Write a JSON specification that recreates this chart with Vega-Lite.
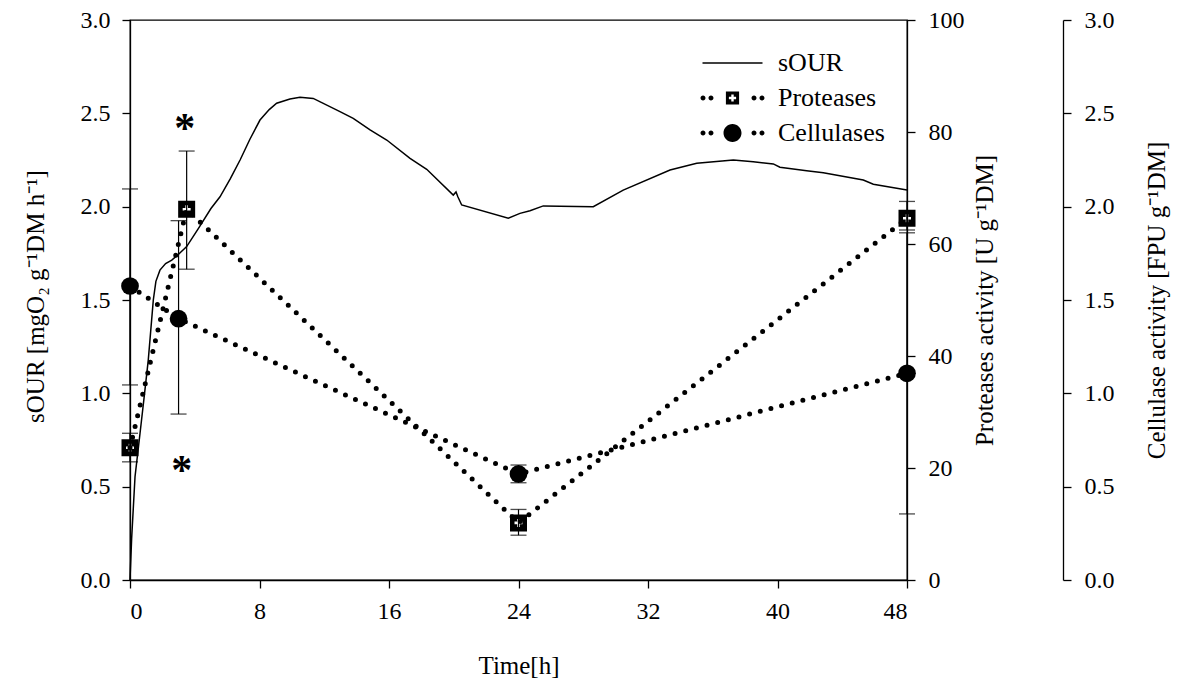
{
  "$schema": "https://vega.github.io/schema/vega-lite/v6.json",
  "width": 777,
  "height": 560,
  "autosize": {"type": "none"},
  "padding": {"left": 130, "top": 20, "right": 285, "bottom": 107},
  "background": "white",
  "config": {
    "view": {"stroke": "black", "strokeWidth": 1.3},
    "axis": {
      "grid": false,
      "domainColor": "black", "domainWidth": 1.3,
      "tickColor": "black", "tickWidth": 1.3, "tickSize": 8,
      "labelFont": "Liberation Serif", "labelFontSize": 24, "labelColor": "black",
      "titleFont": "Liberation Serif", "titleFontSize": 25, "titleFontWeight": "normal", "titleColor": "black",
      "labelPadding": 12
    },
    "legend": {
      "labelFont": "Liberation Serif", "labelFontSize": 26, "labelColor": "black"
    }
  },
  "datasets": {
    "sour": [
      {"time": 0, "sOUR": 0},
      {"time": 0.1, "sOUR": 0.22},
      {"time": 0.31, "sOUR": 0.553},
      {"time": 0.62, "sOUR": 0.786},
      {"time": 0.9, "sOUR": 1.0},
      {"time": 1.13, "sOUR": 1.179},
      {"time": 1.44, "sOUR": 1.5},
      {"time": 1.6, "sOUR": 1.6},
      {"time": 1.85, "sOUR": 1.66},
      {"time": 2.2, "sOUR": 1.695},
      {"time": 2.58, "sOUR": 1.714},
      {"time": 3.0, "sOUR": 1.745},
      {"time": 3.5, "sOUR": 1.786},
      {"time": 4.2, "sOUR": 1.88},
      {"time": 5.0, "sOUR": 1.99},
      {"time": 5.56, "sOUR": 2.053},
      {"time": 6.2, "sOUR": 2.15},
      {"time": 6.8, "sOUR": 2.25},
      {"time": 7.4, "sOUR": 2.36},
      {"time": 8.03, "sOUR": 2.464},
      {"time": 8.6, "sOUR": 2.52},
      {"time": 9.06, "sOUR": 2.554},
      {"time": 9.88, "sOUR": 2.577},
      {"time": 10.5, "sOUR": 2.586},
      {"time": 11.32, "sOUR": 2.58},
      {"time": 12.97, "sOUR": 2.509},
      {"time": 13.79, "sOUR": 2.473},
      {"time": 14.83, "sOUR": 2.411},
      {"time": 15.86, "sOUR": 2.357},
      {"time": 17.3, "sOUR": 2.259},
      {"time": 18.33, "sOUR": 2.2},
      {"time": 19.97, "sOUR": 2.062},
      {"time": 20.14, "sOUR": 2.079},
      {"time": 20.26, "sOUR": 2.052},
      {"time": 20.49, "sOUR": 2.009},
      {"time": 23.37, "sOUR": 1.938},
      {"time": 24.09, "sOUR": 1.964},
      {"time": 24.71, "sOUR": 1.978},
      {"time": 25.53, "sOUR": 2.004},
      {"time": 28.62, "sOUR": 2.0},
      {"time": 30.47, "sOUR": 2.089},
      {"time": 33.36, "sOUR": 2.196},
      {"time": 35.01, "sOUR": 2.232},
      {"time": 37.27, "sOUR": 2.25},
      {"time": 38.5, "sOUR": 2.241},
      {"time": 39.74, "sOUR": 2.229},
      {"time": 40.15, "sOUR": 2.211},
      {"time": 41.8, "sOUR": 2.193},
      {"time": 42.83, "sOUR": 2.182},
      {"time": 45.3, "sOUR": 2.143},
      {"time": 45.92, "sOUR": 2.12},
      {"time": 48, "sOUR": 2.089}
    ],
    "enzymes": [
      {"enzyme": "Proteases", "time": 0, "value": 23.6, "lo": 21.1, "hi": 26.2},
      {"enzyme": "Proteases", "time": 3.5, "value": 66.2, "lo": 55.5, "hi": 76.6},
      {"enzyme": "Proteases", "time": 24, "value": 10.2, "lo": 8.0, "hi": 12.6},
      {"enzyme": "Proteases", "time": 48, "value": 64.6, "lo": 62.5, "hi": 67.6},
      {"enzyme": "Cellulases", "time": 0, "value": 1.575, "lo": 1.045, "hi": 2.095},
      {"enzyme": "Cellulases", "time": 3, "value": 1.4, "lo": 0.889, "hi": 1.925},
      {"enzyme": "Cellulases", "time": 24, "value": 0.568, "lo": 0.521, "hi": 0.616},
      {"enzyme": "Cellulases", "time": 48, "value": 1.107, "lo": 0.354, "hi": 1.86}
    ],
    "stars": [
      {"time": 3.38, "sOUR": 2.451, "mark": "*"},
      {"time": 3.19, "sOUR": 0.621, "mark": "*"}
    ],
    "series": [
      {"series": "sOUR"},
      {"series": "Proteases"},
      {"series": "Cellulases"}
    ]
  },
  "layer": [
    {
      "layer": [
        {
          "data": {"name": "sour"},
          "mark": {"type": "line", "color": "black", "strokeWidth": 1.5},
          "encoding": {
            "x": {"field": "time", "type": "quantitative", "scale": {"domain": [0, 48], "nice": false},
              "axis": {"values": [0, 8, 16, 24, 32, 40, 48], "format": "d", "title": "Time[h]", "labelPadding": 11,
                "titleX": 388.5, "titleY": 93, "titleBaseline": "alphabetic", "titleAlign": "center"}},
            "y": {"field": "sOUR", "type": "quantitative", "scale": {"domain": [0, 3], "nice": false},
              "axis": {"values": [0, 0.5, 1, 1.5, 2, 2.5, 3], "format": ".1f", "title": "sOUR [mgO₂ g⁻¹DM h⁻¹]",
                "labelPadding": 12, "titleAngle": -90, "titleX": -86.5, "titleY": 276, "titleBaseline": "alphabetic", "titleAlign": "center"}}
          }
        },
        {
          "data": {"name": "stars"},
          "mark": {"type": "text", "font": "Liberation Serif", "fontWeight": "bold", "fontSize": 42, "baseline": "alphabetic", "dy": 20, "color": "black"},
          "encoding": {
            "x": {"field": "time", "type": "quantitative", "scale": {"domain": [0, 48], "nice": false}},
            "y": {"field": "sOUR", "type": "quantitative", "scale": {"domain": [0, 3], "nice": false}},
            "text": {"field": "mark"}
          }
        }
      ]
    },
    {
      "data": {"name": "enzymes"},
      "transform": [{"filter": "datum.enzyme === 'Proteases'"}],
      "layer": [
        {
          "mark": {"type": "line", "color": "black", "strokeWidth": 5, "strokeDash": [0, 11], "strokeCap": "round"},
          "encoding": {
            "x": {"field": "time", "type": "quantitative", "scale": {"domain": [0, 48], "nice": false}},
            "y": {"field": "value", "type": "quantitative", "scale": {"domain": [0, 100], "nice": false},
              "axis": {"orient": "right", "values": [0, 20, 40, 60, 80, 100], "format": "d", "title": "Proteases activity [U g⁻¹DM]",
                "labelPadding": 13, "titleAngle": -90, "titleX": 85, "titleY": 280, "titleBaseline": "alphabetic", "titleAlign": "center"}}
          }
        },
        {
          "mark": {"type": "rule", "color": "black", "strokeWidth": 1.2},
          "encoding": {
            "x": {"field": "time", "type": "quantitative"},
            "y": {"field": "lo", "type": "quantitative", "scale": {"domain": [0, 100], "nice": false}},
            "y2": {"field": "hi"}
          }
        },
        {
          "mark": {"type": "tick", "orient": "horizontal", "color": "black", "size": 16, "thickness": 1.3},
          "encoding": {
            "x": {"field": "time", "type": "quantitative"},
            "y": {"field": "lo", "type": "quantitative", "scale": {"domain": [0, 100], "nice": false}}
          }
        },
        {
          "mark": {"type": "tick", "orient": "horizontal", "color": "black", "size": 16, "thickness": 1.3},
          "encoding": {
            "x": {"field": "time", "type": "quantitative"},
            "y": {"field": "hi", "type": "quantitative", "scale": {"domain": [0, 100], "nice": false}}
          }
        },
        {
          "mark": {"type": "point", "filled": true, "color": "black", "opacity": 1, "size": 289,
            "shape": "M-1,-1H1V1H-1Z M-0.15,-0.47V-0.15H-0.47V0.15H-0.15V0.47H0.15V0.15H0.47V-0.15H0.15V-0.47Z"},
          "encoding": {
            "x": {"field": "time", "type": "quantitative"},
            "y": {"field": "value", "type": "quantitative", "scale": {"domain": [0, 100], "nice": false}}
          }
        }
      ]
    },
    {
      "data": {"name": "enzymes"},
      "transform": [{"filter": "datum.enzyme === 'Cellulases'"}],
      "layer": [
        {
          "mark": {"type": "line", "color": "black", "strokeWidth": 5, "strokeDash": [0, 11], "strokeCap": "round"},
          "encoding": {
            "x": {"field": "time", "type": "quantitative", "scale": {"domain": [0, 48], "nice": false}},
            "y": {"field": "value", "type": "quantitative", "scale": {"domain": [0, 3], "nice": false},
              "axis": {"orient": "right", "offset": 156, "values": [0, 0.5, 1, 1.5, 2, 2.5, 3], "format": ".1f", "title": "Cellulase activity [FPU g⁻¹DM]",
                "labelPadding": 13, "titleAngle": -90, "titleX": 101, "titleY": 280, "titleBaseline": "alphabetic", "titleAlign": "center"}}
          }
        },
        {
          "mark": {"type": "rule", "color": "black", "strokeWidth": 1.2},
          "encoding": {
            "x": {"field": "time", "type": "quantitative"},
            "y": {"field": "lo", "type": "quantitative", "scale": {"domain": [0, 3], "nice": false}},
            "y2": {"field": "hi"}
          }
        },
        {
          "mark": {"type": "tick", "orient": "horizontal", "color": "black", "size": 16, "thickness": 1.3},
          "encoding": {
            "x": {"field": "time", "type": "quantitative"},
            "y": {"field": "lo", "type": "quantitative", "scale": {"domain": [0, 3], "nice": false}}
          }
        },
        {
          "mark": {"type": "tick", "orient": "horizontal", "color": "black", "size": 16, "thickness": 1.3},
          "encoding": {
            "x": {"field": "time", "type": "quantitative"},
            "y": {"field": "hi", "type": "quantitative", "scale": {"domain": [0, 3], "nice": false}}
          }
        },
        {
          "mark": {"type": "point", "filled": true, "color": "black", "opacity": 1, "size": 314, "shape": "circle"},
          "encoding": {
            "x": {"field": "time", "type": "quantitative"},
            "y": {"field": "value", "type": "quantitative", "scale": {"domain": [0, 3], "nice": false}}
          }
        }
      ]
    },
    {
      "data": {"name": "series"},
      "mark": {"type": "point", "filled": true, "color": "black", "opacity": 0},
      "encoding": {
        "shape": {
          "field": "series", "type": "nominal",
          "scale": {
            "domain": ["sOUR", "Proteases", "Cellulases"],
            "range": [
              "M-2,-0.05H2V0.05H-2Z",
              "M-2.132,0A0.166,0.166 0 1 1 -1.8,0A0.166,0.166 0 1 1 -2.132,0Z M-1.6,0A0.166,0.166 0 1 1 -1.268,0A0.166,0.166 0 1 1 -1.6,0Z M1.268,0A0.166,0.166 0 1 1 1.6,0A0.166,0.166 0 1 1 1.268,0Z M1.8,0A0.166,0.166 0 1 1 2.132,0A0.166,0.166 0 1 1 1.8,0Z M-0.44,-0.44H0.44V0.44H-0.44Z M-0.08,-0.24V-0.08H-0.24V0.08H-0.08V0.24H0.08V0.08H0.24V-0.08H0.08V-0.24Z",
              "M-2.132,0A0.166,0.166 0 1 1 -1.8,0A0.166,0.166 0 1 1 -2.132,0Z M-1.6,0A0.166,0.166 0 1 1 -1.268,0A0.166,0.166 0 1 1 -1.6,0Z M1.268,0A0.166,0.166 0 1 1 1.6,0A0.166,0.166 0 1 1 1.268,0Z M1.8,0A0.166,0.166 0 1 1 2.132,0A0.166,0.166 0 1 1 1.8,0Z M-0.6,0A0.6,0.6 0 1 1 0.6,0A0.6,0.6 0 1 1 -0.6,0Z"
            ]
          },
          "legend": {
            "title": null, "orient": "none", "legendX": 587.5, "legendY": 28,
            "padding": 0, "rowPadding": 7, "symbolSize": 900,
            "symbolFillColor": "black", "symbolStrokeColor": "black", "symbolStrokeWidth": 0, "symbolOpacity": 1,
            "symbolOffset": 0, "labelOffset": 30.5
          }
        }
      }
    }
  ],
  "resolve": {"scale": {"y": "independent"}}
}
